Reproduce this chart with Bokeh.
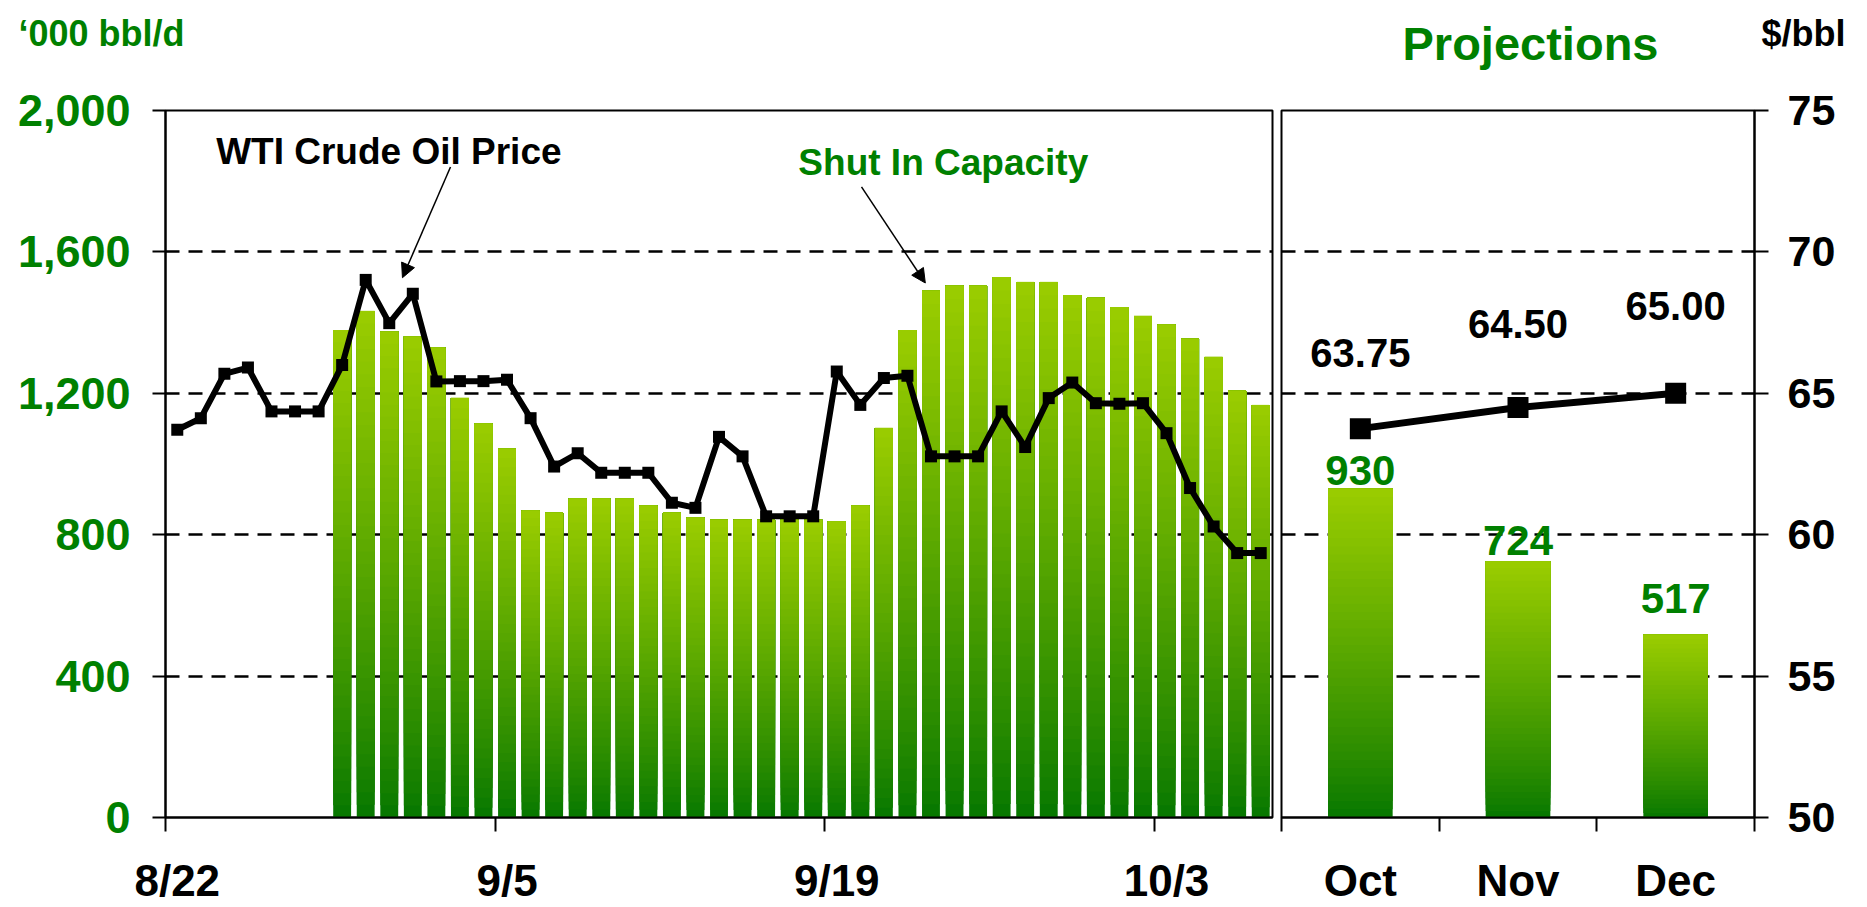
from bokeh.plotting import figure
from bokeh.models import (Range1d, FixedTicker, NumeralTickFormatter, LinearAxis, Grid,
                          Label, Arrow, NormalHead, ColumnDataSource)
from bokeh.layouts import row, column
from bokeh.core.properties import value
from bokeh.embed import file_html
from bokeh.resources import INLINE

# ---------------- data ----------------
dates = ["8/22", "8/23", "8/24", "8/25", "8/26", "8/27", "8/28", "8/29", "8/30", "8/31",
         "9/1", "9/2", "9/3", "9/4", "9/5", "9/6", "9/7", "9/8", "9/9", "9/10",
         "9/11", "9/12", "9/13", "9/14", "9/15", "9/16", "9/17", "9/18", "9/19", "9/20",
         "9/21", "9/22", "9/23", "9/24", "9/25", "9/26", "9/27", "9/28", "9/29", "9/30",
         "10/1", "10/2", "10/3", "10/4", "10/5", "10/6", "10/7"]

wti_price = [63.71, 64.12, 65.69, 65.91, 64.36, 64.36, 64.36, 66.00, 69.01, 67.48,
             68.52, 65.42, 65.43, 65.43, 65.48, 64.12, 62.41, 62.88, 62.19, 62.19,
             62.19, 61.13, 60.95, 63.46, 62.77, 60.65, 60.65, 60.65, 65.77, 64.59,
             65.54, 65.62, 62.77, 62.77, 62.77, 64.36, 63.10, 64.83, 65.38, 64.65,
             64.63, 64.65, 63.59, 61.65, 60.29, 59.35, 59.35]

shut_in = [0, 0, 0, 0, 0, 0, 0, 1379, 1433, 1374,
           1360, 1329, 1187, 1114, 1043, 868, 862, 902, 902, 902,
           882, 862, 848, 842, 842, 842, 842, 842, 837, 882,
           1102, 1379, 1490, 1504, 1504, 1529, 1515, 1515, 1478, 1470,
           1444, 1419, 1394, 1354, 1303, 1207, 1167]

date_tick_labels = ["8/22", "9/5", "9/19", "10/3"]

proj_months = ["Oct", "Nov", "Dec"]
proj_shut_in = [930, 724, 517]
proj_price = [63.75, 64.50, 65.00]

left_ticks = [0, 400, 800, 1200, 1600, 2000]
right_ticks = [50, 55, 60, 65, 70, 75]

# ---------------- styles ----------------
GREEN = "#008000"
FONT = "Liberation Sans"
BOT = (8, 120, 0)
TOP = (153, 204, 0)
NBANDS = 40
HEADER_H = 72
PLOT_H = 907 - HEADER_H
TOP_BORDER = 110 - HEADER_H
XLAB_STANDOFF = 24


def band_color(k):
    t = (k / (NBANDS - 1)) ** 0.85
    r, g, b = [int(round(a + (c - a) * t)) for a, c in zip(BOT, TOP)]
    return "#%02x%02x%02x" % (r, g, b)


def gradient_bars(p, xs, vals, width):
    bx, bb, bt, bc = [], [], [], []
    for k in range(NBANDS):
        for x, v in zip(xs, vals):
            if v <= 0:
                continue
            bx.append(x)
            bb.append(v * k / NBANDS)
            bt.append(v)
            bc.append(band_color(k))
    src = ColumnDataSource(dict(x=bx, bottom=bb, top=bt, color=bc))
    p.vbar(x="x", bottom="bottom", top="top", width=width, fill_color="color",
           line_color=None, source=src)


def style_common(p):
    p.outline_line_color = "black"
    p.outline_line_width = 2
    p.background_fill_color = "white"
    p.border_fill_color = "white"


def style_xaxis(p):
    for ax in p.xaxis:
        ax.major_tick_out = 0
        ax.major_tick_in = 0
        ax.minor_tick_out = 14
        ax.minor_tick_in = 0
        ax.minor_tick_line_width = 2
        ax.minor_tick_line_color = "black"
        ax.axis_line_width = 2
        ax.axis_line_color = "black"
        ax.major_label_standoff = XLAB_STANDOFF
        ax.major_label_text_font = FONT
        ax.major_label_text_font_style = "bold"
        ax.major_label_text_font_size = "44px"
        ax.major_label_text_line_height = 1.0
        ax.major_label_text_color = "black"


# ---------------- header (axis titles / panel title) ----------------
header = figure(width=1867, height=HEADER_H, x_range=Range1d(0, 1867),
                y_range=Range1d(HEADER_H, 0), output_backend="svg", toolbar_location=None,
                x_axis_location=None, y_axis_location=None,
                min_border_left=0, min_border_right=0, min_border_top=0, min_border_bottom=0)
header.outline_line_color = None
header.grid.visible = False
header.text(x=[18], y=[33], text=["\u2018000 bbl/d"], text_font=value(FONT),
            text_font_style="bold", text_font_size="36px", text_color=GREEN,
            text_align="left", text_baseline="alphabetic")
header.text(x=[1530], y=[43], text=["Projections"], text_font=value(FONT),
            text_font_style="bold", text_font_size="47px", text_color=GREEN,
            text_align="center", text_baseline="alphabetic")
header.text(x=[1761], y=[33], text=["$/bbl"], text_font=value(FONT),
            text_font_style="bold", text_font_size="36px", text_color="black",
            text_align="left", text_baseline="alphabetic")

# ---------------- left panel ----------------
n = len(dates)
xs = [i + 0.5 for i in range(n)]

p1 = figure(width=1276, height=PLOT_H, x_range=Range1d(0, n), y_range=Range1d(0, 2000),
            output_backend="svg", toolbar_location=None,
            min_border_left=165, min_border_right=4, min_border_top=TOP_BORDER,
            min_border_bottom=PLOT_H - TOP_BORDER - 708)
p1.extra_y_ranges = {"price": Range1d(50, 75)}
style_common(p1)

tick_pos = [dates.index(d) + 0.5 for d in date_tick_labels]
p1.xaxis.ticker = FixedTicker(ticks=tick_pos, minor_ticks=[t - 0.5 for t in tick_pos])
p1.xaxis.major_label_overrides = {t: lab for t, lab in zip(tick_pos, date_tick_labels)}
style_xaxis(p1)

p1.yaxis.ticker = FixedTicker(ticks=left_ticks)
p1.yaxis.formatter = NumeralTickFormatter(format="0,0")
for ax in p1.yaxis:
    ax.major_tick_out = 13
    ax.major_tick_in = 0
    ax.major_tick_line_width = 2
    ax.minor_tick_out = 0
    ax.minor_tick_in = 0
    ax.axis_line_width = 2
    ax.major_label_standoff = 22
    ax.major_label_text_font = FONT
    ax.major_label_text_font_style = "bold"
    ax.major_label_text_font_size = "45px"
    ax.major_label_text_color = GREEN

p1.xgrid.visible = False
p1.ygrid.ticker = FixedTicker(ticks=left_ticks[1:])
p1.ygrid.grid_line_color = "black"
p1.ygrid.grid_line_dash = "14 9"
p1.ygrid.grid_line_width = 2.5

gradient_bars(p1, xs, shut_in, 0.76)
p1.line(xs, wti_price, y_range_name="price", line_color="black", line_width=6)
p1.scatter(xs, wti_price, y_range_name="price", marker="square", size=12,
           fill_color="black", line_color=None)

p1.add_layout(Label(x=2.15, y=1883, text="WTI Crude Oil Price", text_font=FONT,
                    text_font_style="bold", text_font_size="37px", text_color="black",
                    text_baseline="alphabetic", text_align="left"))
p1.add_layout(Label(x=26.87, y=1852, text="Shut In Capacity", text_font=FONT,
                    text_font_style="bold", text_font_size="37px", text_color=GREEN,
                    text_baseline="alphabetic", text_align="left"))
p1.add_layout(Arrow(end=NormalHead(size=14, fill_color="black", line_color="black"),
                    x_start=12.10, y_start=1840, x_end=10.06, y_end=1527,
                    line_color="black", line_width=1.5))
p1.add_layout(Arrow(end=NormalHead(size=14, fill_color="black", line_color="black"),
                    x_start=29.55, y_start=1784, x_end=32.26, y_end=1512,
                    line_color="black", line_width=1.5))

# ---------------- right panel ----------------
m = len(proj_months)
pxs = [i + 0.5 for i in range(m)]

p2 = figure(width=591, height=PLOT_H, x_range=Range1d(0, m), y_range=Range1d(0, 2000),
            output_backend="svg", toolbar_location=None, y_axis_location=None,
            min_border_left=5, min_border_right=113, min_border_top=TOP_BORDER,
            min_border_bottom=PLOT_H - TOP_BORDER - 708)
p2.extra_y_ranges = {"price": Range1d(50, 75)}
style_common(p2)
for g in p2.grid:
    g.visible = False

p2.xaxis.ticker = FixedTicker(ticks=pxs, minor_ticks=list(range(m + 1)))
p2.xaxis.major_label_overrides = {t: lab for t, lab in zip(pxs, proj_months)}
style_xaxis(p2)

raxis = LinearAxis(y_range_name="price", ticker=FixedTicker(ticks=right_ticks))
raxis.major_tick_out = 14
raxis.major_tick_in = 0
raxis.major_tick_line_width = 2
raxis.minor_tick_out = 0
raxis.minor_tick_in = 0
raxis.axis_line_width = 2
raxis.major_label_standoff = 19
raxis.major_label_text_font = FONT
raxis.major_label_text_font_style = "bold"
raxis.major_label_text_font_size = "43px"
raxis.major_label_text_color = "black"
p2.add_layout(raxis, "right")

p2.add_layout(Grid(dimension=1, ticker=FixedTicker(ticks=left_ticks[1:]),
                   grid_line_color="black", grid_line_dash="14 9", grid_line_width=2.5))

gradient_bars(p2, pxs, proj_shut_in, 0.41)
p2.line(pxs, proj_price, y_range_name="price", line_color="black", line_width=7)
p2.scatter(pxs, proj_price, y_range_name="price", marker="square", size=21,
           fill_color="black", line_color=None)

price_lbl = ColumnDataSource(dict(x=pxs, y=proj_price, t=["%.2f" % v for v in proj_price],
                                  dy=[-76, -83, -87]))
p2.text(x="x", y="y", text="t", y_offset="dy", source=price_lbl, y_range_name="price",
        text_font=value(FONT), text_font_style="bold", text_font_size="40px",
        text_color="black", text_align="center", text_baseline="alphabetic")

cap_lbl = ColumnDataSource(dict(x=pxs, y=proj_shut_in, t=[str(v) for v in proj_shut_in],
                                dy=[-18, -21, -36]))
p2.text(x="x", y="y", text="t", y_offset="dy", source=cap_lbl,
        text_font=value(FONT), text_font_style="bold", text_font_size="42px",
        text_color=GREEN, text_align="center", text_baseline="alphabetic")

layout = column(header, row(p1, p2))
open("out.html", "w").write(file_html(layout, INLINE))
